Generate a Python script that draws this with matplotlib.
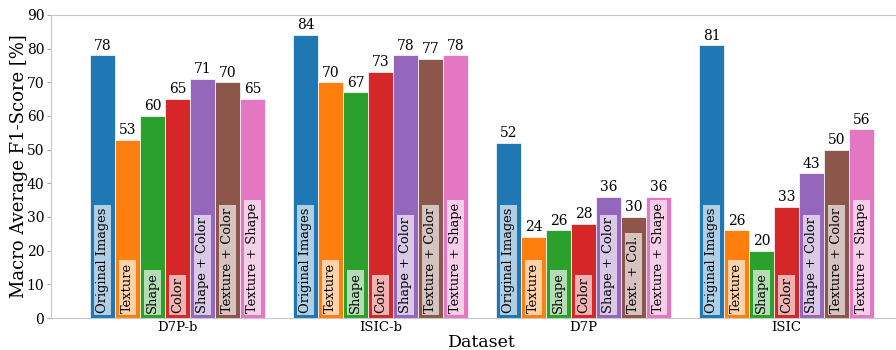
import matplotlib
matplotlib.use("Agg")
import matplotlib.pyplot as plt
import numpy as np

plt.rcParams['font.family'] = ['DejaVu Serif']

datasets = ["D7P-b", "ISIC-b", "D7P", "ISIC"]
variants = ["Original Images", "Texture", "Shape", "Color",
            "Shape + Color", "Texture + Color", "Texture + Shape"]
scores = {
    "Original Images": [78, 84, 52, 81],
    "Texture":         [53, 70, 24, 26],
    "Shape":           [60, 67, 26, 20],
    "Color":           [65, 73, 28, 33],
    "Shape + Color":   [71, 78, 36, 43],
    "Texture + Color": [70, 77, 30, 50],
    "Texture + Shape": [65, 78, 36, 56],
}
# short label used where the bar is too low for the full name
short_labels = {(2, "Texture + Color"): "Text. + Col."}

colors = ["#1f77b4", "#ff7f0e", "#2ca02c", "#d62728",
          "#9467bd", "#8c564b", "#e377c2"]

fig = plt.figure(figsize=(8.96, 3.5), dpi=100)
ax = fig.add_axes([0.057, 0.0914, 0.962, 0.866])

x = np.arange(len(datasets))
w = 0.123
n = len(variants)
for i, (var, c) in enumerate(zip(variants, colors)):
    pos = x + (i - (n - 1) / 2) * w
    vals = scores[var]
    ax.bar(pos, vals, width=w, color=c, edgecolor="white", linewidth=0.5)
    for j, (p, v) in enumerate(zip(pos, vals)):
        ax.text(p, v + 0.8, f"{v}", ha="center", va="bottom", fontsize=10)
        lab = short_labels.get((j, var), var)
        ax.text(p, 1.6, lab, rotation=90, ha="center", va="bottom",
                fontsize=9.4,
                bbox=dict(facecolor="white", alpha=0.65, edgecolor="none",
                          pad=1.5))

ax.set_xticks(x)
ax.set_xticklabels(datasets, fontsize=9.5)
ax.set_ylim(0, 90)
ax.set_yticks(np.arange(0, 91, 10))
ax.tick_params(axis="y", labelsize=10, length=3, color="#aaaaaa", pad=2)
ax.tick_params(axis="x", length=0, pad=2)
ax.set_ylabel("Macro Average F1-Score [%]", fontsize=13)
ax.yaxis.set_label_coords(-0.027, 0.5)
ax.set_xlabel("Dataset", fontsize=12.5, labelpad=0)
for s in ax.spines.values():
    s.set_color("#c8c8c8")

fig.savefig("out.png", dpi=100)
